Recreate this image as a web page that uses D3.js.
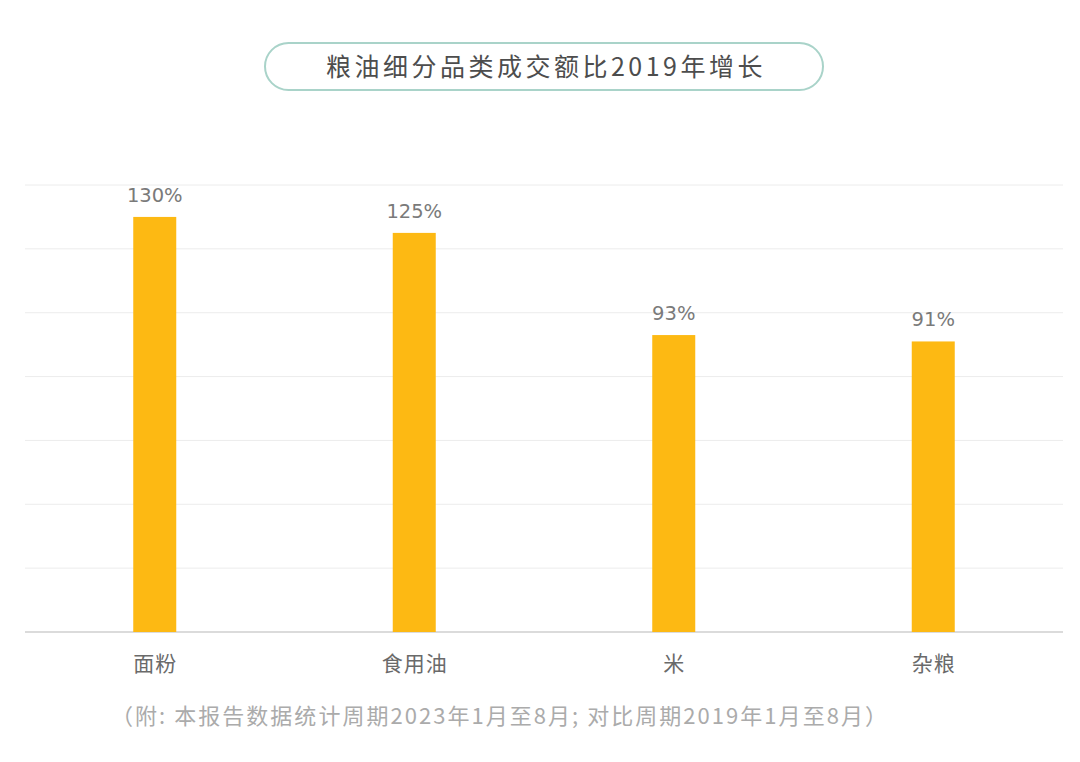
<!DOCTYPE html>
<html><head><meta charset="utf-8">
<script src="https://cdn.jsdelivr.net/npm/d3@7"></script>
<style>body{margin:0;background:#fff;} text{font-family:"Noto Sans CJK SC","Noto Sans",sans-serif;}</style>
</head><body><svg id="c" width="1080" height="762"></svg>
<script>
const categories = ["面粉","食用油","米","杂粮"];
const values = [130,125,93,91];
const valueLabels = ["130%","125%","93%","91%"];
const yTicks = [0,20,40,60,80,100,120,140];
const title = "粮油细分品类成交额比2019年增长";
const note = "（附: 本报告数据统计周期2023年1月至8月; 对比周期2019年1月至8月）";

(function(){
const svg = d3.select("#c");
const pLeft = 25, pRight = 1063, pTop = 185, pBottom = 632;
const x = d3.scaleBand().domain(categories).range([pLeft,pRight]).paddingInner(0).paddingOuter(0);
const y = d3.scaleLinear().domain([0,140]).range([pBottom,pTop]);
const bw = 43;

function fitText(t, target){
  const n = t.text().length;
  const w = t.node().getComputedTextLength();
  t.attr("letter-spacing", (target - w)/n);
}

// title pill
svg.append("rect").attr("x",265).attr("y",43).attr("width",558).attr("height",47)
  .attr("rx",23.5).attr("fill","#fff").attr("stroke","#a9d3c9").attr("stroke-width",2);
const tt = svg.append("text").attr("x",326).attr("y",76).attr("text-anchor","start")
  .attr("font-size",25).attr("fill","#4d4d4d").text(title);
fitText(tt, 440);

// grid
svg.append("g").selectAll("line").data(yTicks).join("line")
  .attr("x1",pLeft).attr("x2",pRight).attr("y1",d=>y(d)).attr("y2",d=>y(d))
  .attr("stroke",d=>d===0?"#cfcfcf":"#ececec").attr("stroke-width",d=>d===0?1.5:1);

// bars
svg.append("g").selectAll("rect").data(values).join("rect")
  .attr("x",(d,i)=>x(categories[i])+x.bandwidth()/2-bw/2)
  .attr("y",d=>y(d)).attr("width",bw).attr("height",d=>pBottom-y(d))
  .attr("fill","#FDB913");

// value labels
svg.append("g").selectAll("text").data(values).join("text")
  .attr("x",(d,i)=>x(categories[i])+x.bandwidth()/2)
  .attr("y",d=>y(d)-15).attr("text-anchor","middle")
  .attr("font-size",19.5).attr("fill","#7a7a7a")
  .style("font-family","'DejaVu Sans',sans-serif")
  .text((d,i)=>valueLabels[i]);

// x axis labels
const xa = svg.append("g").attr("transform",`translate(0,${pBottom})`)
  .call(d3.axisBottom(x).tickSize(0).tickPadding(0));
xa.select(".domain").remove();
xa.selectAll("text").attr("y",39).attr("dy",0).attr("font-size",21).attr("fill","#6a6a6a")
  .attr("letter-spacing",1).attr("dx",0.5)
  .attr("font-family","Noto Sans CJK SC");

// note
const nt = svg.append("text").attr("x",111).attr("y",724).attr("text-anchor","start")
  .attr("font-size",22).attr("fill","#ababab").text(note);
fitText(nt, 778);
})();
</script></body></html>
